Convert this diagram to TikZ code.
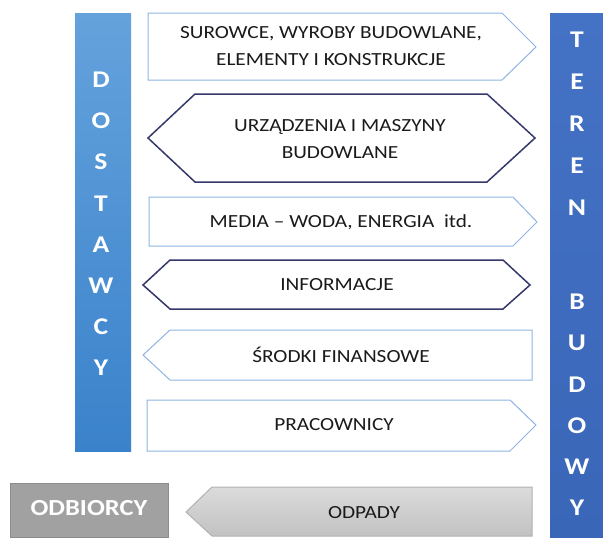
\documentclass[tikz,border=0pt]{standalone}
\usepackage{fontspec}
\setmainfont[FakeStretch=1.15]{Carlito}
\usetikzlibrary{positioning}

\definecolor{dostTop}{HTML}{64A2DC}
\definecolor{dostBot}{HTML}{3A82CB}
\definecolor{terenTop}{HTML}{4472C4}
\definecolor{terenBot}{HTML}{3A66B8}
\definecolor{lightLine}{HTML}{8EB4E3}
\definecolor{darkLine}{HTML}{35386A}
\definecolor{greyLine}{HTML}{8C8C8C}
\definecolor{labelText}{HTML}{1A1A1A}

\tikzset{
  lightflow/.style={draw=lightLine, line width=1pt, fill=white, line join=miter},
  darkflow/.style={draw=darkLine, line width=1.5pt, fill=white, line join=miter},
  flowlabel/.style={text=labelText, align=center, inner sep=0pt,
    font=\fontsize{18.5}{27}\selectfont},
  barletter/.style={text=white, inner sep=0pt,
    font=\fontsize{24}{28}\selectfont\bfseries}
}

\begin{document}
\begin{tikzpicture}[x=1pt, y=-1pt]

    \useasboundingbox (0,0) rectangle (603,538);

    % Side bars
    \shade[top color=dostTop, bottom color=dostBot] (75,13) rectangle (131,451);
    \shade[top color=terenTop, bottom color=terenBot] (550,13) rectangle (603,538);

    \foreach \letter [count=\i] in {D,O,S,T,A,W,C,Y}
      \node[barletter] (dost\i) at (101,{80+41.1*(\i-1)}) {\letter};
    \foreach \letter [count=\i] in {T,E,R,E,N}
      \node[barletter] (teren\i) at (577,{40+42*(\i-1)}) {\letter};
    \foreach \letter [count=\i] in {B,U,D,O,W,Y}
      \node[barletter] (bud\i) at (577,{302+41.2*(\i-1)}) {\letter};

    % Flows between the bars
    \draw[lightflow] (148,13) -- (502,13) -- (536,47) -- (502,80) -- (148,80) -- cycle;
    \node[flowlabel] (surowce) at (331,46.5) {SUROWCE, WYROBY BUDOWLANE,\\ELEMENTY I KONSTRUKCJE};

    \draw[darkflow] (148,138) -- (195,94) -- (487,94) -- (535,138) -- (487,182) -- (195,182) -- cycle;
    \node[flowlabel] (maszyny) at (340,139) {URZĄDZENIA I MASZYNY\\BUDOWLANE};

    \draw[lightflow] (149,197) -- (513,197) -- (537,222) -- (513,246) -- (149,246) -- cycle;
    \node[flowlabel] (media) at (341,222) {MEDIA – WODA, ENERGIA~ itd.};

    \draw[darkflow] (143,285) -- (170,260) -- (503,260) -- (530,285) -- (503,309) -- (170,309) -- cycle;
    \node[flowlabel] (informacje) at (337,285) {INFORMACJE};

    \draw[lightflow] (143,355) -- (170,330) -- (532,330) -- (532,380) -- (170,380) -- cycle;
    \node[flowlabel] (finanse) at (341,355) {ŚRODKI FINANSOWE};

    \draw[lightflow] (147,400) -- (510,400) -- (536,425) -- (510,451) -- (147,451) -- cycle;
    \node[flowlabel] (pracownicy) at (334,425) {PRACOWNICY};

    % Waste going out
    \draw[draw=greyLine, fill=black!37, line width=1pt] (10,483) rectangle (168,537);
    \node[text=white, inner sep=0pt, font=\fontsize{23}{27}\selectfont\bfseries] (odbiorcy) at (89,508) {ODBIORCY};

    \draw[draw=black!30, top color=black!14, bottom color=black!24, line width=1pt]
      (186,512) -- (212,487) -- (532,487) -- (532,536) -- (212,536) -- cycle;
    \node[flowlabel] (odpady) at (364,513) {ODPADY};

\end{tikzpicture}
\end{document}
